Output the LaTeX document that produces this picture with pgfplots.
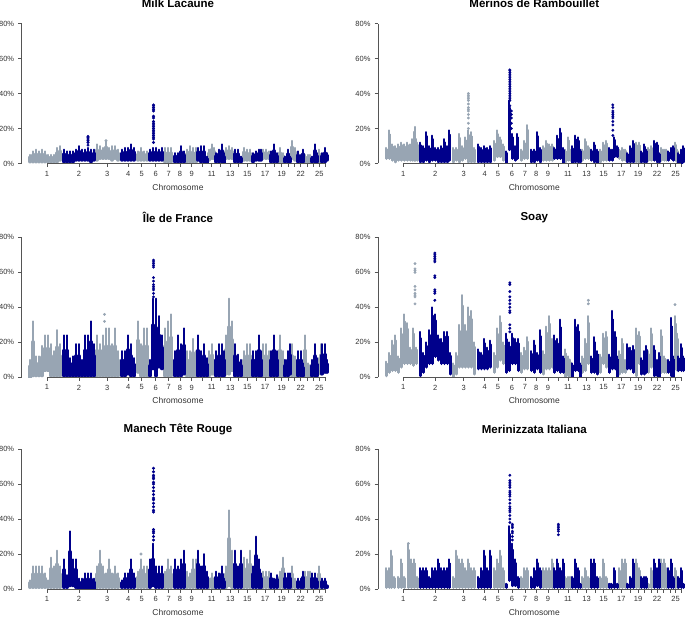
\documentclass[border=0pt]{standalone}
\usepackage{fontspec}
\setmainfont{Liberation Sans}
\usepackage{pgfplots}
\usepackage{pgfplotstable}
\pgfplotsset{compat=1.18}

\definecolor{chrgrey}{HTML}{98A5B3}
\definecolor{chrnavy}{HTML}{00008B}
\definecolor{axgrey}{HTML}{555555}

% x is the position along the genome, y the percentage; each row is one column of SNPs (lo to hi)
% --- Milk Lacaune
\pgfplotstableread[row sep=crcr]{x lo hi\\
30 1 5\\33 1 7\\36 1 8\\39 1 7\\42 1 8\\45 1 7\\48 1 5\\51 1 5\\54 1 5\\57 1 9\\60 2 10\\
97 2 11\\100 3 10\\103 3 9\\106 3 13\\109 3 9\\112 2 10\\115 3 10\\118 2 8\\
138 2 7\\141 2 9\\144 2 7\\147 2 7\\
165 1 9\\168 1 9\\171 1 9\\
187 1 8\\190 1 10\\193 1 9\\196 1 9\\
209 2 8\\212 3 11\\214 3 9\\
226 3 9\\229 3 10\\232 3 9\\
244 2 9\\247 2 8\\250 2 8\\
263 3 8\\266 3 8\\269 3 7\\
280 1 9\\283 1 6\\
292 3 13\\295 2 9\\
305 1 5\\308 1 5\\310 1 5\\
319 1 8\\321 1 5\\
}\MLg
\pgfplotstableread[row sep=crcr]{x lo hi\\
64 1 8\\67 1 7\\70 1 7\\73 1 7\\76 2 8\\79 2 10\\82 2 8\\85 2 8\\88 2 9\\91 1 8\\94 2 8\\
122 2 8\\125 2 9\\128 2 9\\131 2 11\\134 2 9\\
150 2 8\\153 2 9\\156 2 9\\159 2 8\\162 2 9\\
175 1 6\\178 1 6\\181 1 10\\184 1 7\\
198 2 9\\201 1 10\\204 1 10\\207 0 4\\
216 1 6\\219 1 8\\222 1 11\\224 0 6\\
235 1 8\\238 1 8\\241 1 4\\
253 1 6\\256 2 7\\259 2 8\\261 2 8\\
271 1 7\\274 1 11\\277 1 6\\
285 1 4\\288 1 8\\290 1 4\\
298 1 7\\301 1 5\\303 1 8\\
312 1 4\\315 1 11\\317 1 6\\
322 1 6\\325 1 9\\327 2 6\\
}\MLn
\pgfplotstableread[row sep=crcr]{x y\\106 13\\}\MLgs
\pgfplotstableread[row sep=crcr]{x y\\
88 10.5\\88 12\\88 13\\88 14\\88 15\\88 15.5\\
153.5 12\\153.5 14\\153.5 15\\153.5 16\\153.5 17\\153.5 18\\153.5 19\\153.5 20\\153.5 21\\153.5 22\\153.5 23\\153.5 24\\153.5 26\\153.5 27\\153.5 30\\153.5 31\\153.5 32\\153.5 33\\153.5 33.5\\
}\MLns

% --- Merinos de Rambouillet
\pgfplotstableread[row sep=crcr]{x lo hi\\
30 3 9\\33 3 19\\36 2 11\\39 1 10\\42 2 11\\45 2 12\\48 2 11\\51 2 12\\54 2 11\\56 2 14\\58.5 2 21\\61 2 12\\
97 1 9\\100 2 9\\103 1 17\\106 2 10\\109 3 15\\112 1 19\\115 1 18\\118 1 9\\
138 2 13\\141 4 19\\144 4 15\\147 2 11\\
165 2 8\\168 3 13\\171 3 22\\
187 2 10\\190 2 13\\193 2 11\\196 2 11\\
209 1 8\\212 2 15\\214 2 8\\
226 2 8\\229 3 14\\232 3 10\\
244 1 8\\247 2 12\\250 2 13\\
263 3 8\\266 2 9\\269 2 8\\
280 1 12\\283 0 12\\
292 2 9\\295 2 10\\
305 2 9\\308 2 8\\310 2 8\\
319 2 12\\321 1 8\\
}\MRg
\pgfplotstableread[row sep=crcr]{x lo hi\\
64 1 12\\67 1 10\\70 2 18\\73 1 10\\76 2 16\\79 2 9\\82 1 9\\85 1 10\\88 1 14\\91 1 10\\93 2 19\\
122 1 11\\125 1 9\\128 1 10\\131 1 9\\134 1 10\\
150 0 7\\153 8 36\\156 3 17\\159 2 10\\161 3 17\\
175 1 8\\178 1 8\\181 2 18\\184 1 9\\
198 3 9\\201 3 16\\204 3 20\\207 0 9\\
216 0 10\\219 1 16\\222 1 15\\224 1 8\\
235 2 8\\238 1 12\\241 0 8\\
253 2 9\\256 2 8\\258 4 15\\261 4 10\\
271 1 6\\274 1 10\\277 1 13\\
285 1 7\\288 1 11\\290 1 8\\
298 2 13\\301 1 12\\303 1 6\\
312 2 7\\315 3 9\\317 2 10\\
322 0 6\\325 0 8\\327 1 10\\
}\MRn
\pgfplotstableread[row sep=crcr]{x y\\
112 20\\112 23\\112 26\\112 28\\112 30\\112 31\\112 32\\112 34\\112 36\\112 37\\112 38\\112 39\\112 40\\
}\MRgs
\pgfplotstableread[row sep=crcr]{x y\\
153.5 30\\153.5 33\\153.5 36\\153.5 37\\153.5 38\\153.5 39\\153.5 40\\153.5 41\\153.5 42\\153.5 43\\153.5 44\\153.5 45\\153.5 46\\153.5 47\\153.5 48\\153.5 49\\153.5 50\\153.5 51\\153.5 52\\153.5 53\\153.5 53.5\\
155 20\\155 23\\155 26\\155 28\\155 30\\
256.5 16\\256.5 19\\256.5 22\\256.5 24\\256.5 26\\256.5 27\\256.5 28\\256.5 29\\256.5 30\\256.5 32\\256.5 33.5\\
}\MRns

% --- Ile de France
\pgfplotstableread[row sep=crcr]{x lo hi\\
30 0 10\\33 1 32\\36 1 12\\39 1 12\\42 1 18\\45 4 24\\48 4 24\\51 1 19\\54 1 15\\57 1 27\\60 1 19\\
97 1 24\\100 1 19\\103 1 24\\106 1 28\\109 1 28\\112 1 19\\115 1 28\\118 1 15\\
138 3 32\\141 1 19\\144 1 28\\147 1 28\\
165 1 28\\168 1 32\\171 1 36\\
187 1 15\\190 1 15\\193 1 22\\196 1 15\\
209 1 15\\212 2 19\\214 2 10\\
226 2 24\\229 2 45\\232 4 32\\
244 1 15\\247 1 19\\250 1 19\\
263 1 19\\266 1 19\\269 1 15\\
280 1 24\\283 1 15\\
292 1 19\\295 1 12\\
305 1 24\\308 1 8\\310 1 7\\
319 3 11\\321 2 19\\
}\IFg
\pgfplotstableread[row sep=crcr]{x lo hi\\
64 1 24\\67 1 24\\70 1 11\\73 1 12\\76 1 19\\79 1 19\\82 1 10\\85 1 24\\88 1 24\\91 1 32\\94 1 19\\
122 1 15\\125 1 15\\128 2 24\\131 1 19\\134 1 11\\
150 1 10\\153 5 45\\156 1 45\\159 6 35\\162 5 24\\
175 1 15\\178 1 24\\181 1 19\\184 2 28\\
198 1 24\\201 1 15\\204 1 19\\207 1 11\\
216 1 15\\219 1 19\\222 1 19\\224 1 15\\
235 1 19\\238 1 13\\241 1 10\\
253 1 15\\256 1 15\\259 1 24\\261 1 15\\
271 1 15\\274 1 24\\277 1 15\\
285 1 10\\288 1 15\\290 2 19\\
298 1 15\\301 1 15\\303 1 8\\
312 1 10\\315 1 19\\317 1 11\\
322 2 19\\325 3 19\\327 3 10\\
}\IFn
\pgfplotstableread[row sep=crcr]{x y\\104.5 32\\104.5 36\\}\IFgs
\pgfplotstableread[row sep=crcr]{x y\\
153.5 46\\153.5 48\\153.5 50\\153.5 51\\153.5 52\\153.5 53\\153.5 55\\153.5 57\\153.5 63\\153.5 64\\153.5 65\\153.5 66\\153.5 67\\
}\IFns

% --- Soay
\pgfplotstableread[row sep=crcr]{x lo hi\\
30 1 9\\33 3 14\\36 4 21\\39 4 24\\42 3 12\\45 6 28\\48 8 36\\51 8 31\\54 8 17\\57 7 28\\60 8 17\\
97 0 8\\100 2 14\\103 6 30\\106 6 47\\109 6 30\\112 6 40\\115 6 38\\118 2 20\\
138 3 14\\141 6 28\\144 10 35\\147 8 20\\
165 3 14\\168 5 17\\171 5 23\\
187 2 15\\190 5 29\\193 5 35\\196 6 22\\
209 0 16\\212 1 12\\214 0 10\\
226 3 12\\229 4 22\\232 8 35\\
244 3 13\\247 8 25\\250 6 26\\
263 2 15\\266 3 22\\269 3 10\\
280 1 28\\283 8 26\\
292 3 15\\295 6 28\\
305 3 27\\308 3 12\\310 3 10\\
319 5 35\\321 4 25\\
}\SOg
\pgfplotstableread[row sep=crcr]{x lo hi\\
64 1 26\\67 3 14\\70 6 20\\73 8 27\\76 8 40\\79 12 36\\82 10 24\\85 8 22\\88 8 26\\91 8 26\\94 2 14\\
122 5 16\\125 5 14\\128 5 22\\131 5 17\\134 6 21\\
150 3 25\\153 4 20\\156 8 25\\159 8 22\\162 4 22\\
175 4 15\\178 3 21\\181 5 14\\184 3 27\\
198 3 24\\201 4 22\\204 3 33\\207 3 12\\
216 0 8\\219 4 33\\222 4 30\\224 0 8\\
235 3 12\\238 3 23\\241 2 15\\
253 3 13\\256 5 38\\259 5 26\\261 0 12\\
271 5 19\\274 5 17\\277 3 18\\
285 2 11\\288 2 15\\290 3 18\\
298 1 18\\301 1 10\\303 0 14\\
312 3 10\\315 1 34\\317 0 12\\
322 4 12\\325 4 19\\327 4 12\\
}\SOn
\pgfplotstableread[row sep=crcr]{x y\\
58.7 42\\58.7 46\\58.7 47\\58.7 48\\58.7 50\\58.7 52\\58.7 60\\58.7 61\\58.7 62\\58.7 65\\
232 42\\232 44\\318.7 41.5\\
}\SOgs
\pgfplotstableread[row sep=crcr]{x y\\
78.5 44\\78.5 48\\78.5 49\\78.5 50\\78.5 57\\78.5 58\\78.5 66\\78.5 67\\78.5 68\\78.5 69\\78.5 70\\78.5 71\\
153.5 26\\153.5 28\\153.5 30\\153.5 37\\153.5 38\\153.5 40\\153.5 42\\153.5 44\\153.5 46\\153.5 49\\153.5 53\\153.5 54\\
}\SOns

% --- Manech Tete Rouge
\pgfplotstableread[row sep=crcr]{x lo hi\\
30 1 5\\33 1 13\\36 1 13\\39 1 13\\42 1 13\\45 1 9\\48 1 5\\51 1 18\\54 1 13\\57 1 22\\60 1 13\\
97 1 13\\100 1 22\\103 1 13\\106 1 9\\109 1 17\\112 1 9\\115 1 13\\118 1 9\\
138 1 10\\141 1 17\\144 1 13\\147 1 13\\
165 1 10\\168 1 17\\171 1 13\\
187 1 10\\190 1 9\\193 1 17\\196 1 17\\
209 1 6\\212 1 9\\214 1 5\\
226 1 13\\229 2 45\\232 1 22\\
244 1 18\\247 1 17\\250 1 22\\
263 1 10\\266 1 10\\269 1 10\\
280 1 10\\283 1 18\\
292 1 13\\295 1 6\\
305 1 10\\308 1 10\\310 1 10\\
319 1 13\\321 1 6\\
}\MTg
\pgfplotstableread[row sep=crcr]{x lo hi\\
64 1 17\\67 1 8\\70 2 33\\73 2 17\\76 1 17\\79 0 6\\82 0 6\\85 0 9\\88 0 9\\91 0 9\\94 0 6\\
122 1 5\\125 1 9\\128 1 9\\131 1 17\\134 1 9\\
150 1 17\\153 2 26\\156 1 13\\159 1 13\\162 1 13\\
175 1 17\\178 1 13\\181 1 17\\184 1 22\\
198 1 22\\201 1 13\\204 1 20\\207 1 10\\
216 1 10\\219 1 9\\222 1 13\\224 1 6\\
235 1 22\\238 1 13\\241 1 22\\
253 1 13\\256 1 30\\259 1 17\\261 1 9\\
271 1 9\\274 1 6\\277 1 8\\
285 1 9\\288 1 9\\290 1 9\\
298 1 6\\301 1 6\\303 1 10\\
312 1 9\\315 1 9\\317 1 6\\
322 1 6\\325 1 6\\327 1 2\\
}\MTn
\pgfplotstableread[row sep=crcr]{x y\\141 20\\}\MTgs
\pgfplotstableread[row sep=crcr]{x y\\
153.5 28\\153.5 30\\153.5 32\\153.5 33\\153.5 34\\
153.5 44\\153.5 45\\153.5 47\\153.5 49\\153.5 51\\153.5 52\\153.5 54\\153.5 56\\153.5 58\\153.5 60\\153.5 61\\153.5 63\\153.5 64\\153.5 65\\153.5 67\\153.5 69\\
}\MTns

% --- Merinizzata Italiana
\pgfplotstableread[row sep=crcr]{x lo hi\\
30 1 12\\33 1 12\\35 1 22\\38 1 7\\42 1 7\\45 1 17\\48 1 7\\52 1 26\\55 1 17\\58 1 17\\61 1 7\\
97 1 7\\100 1 22\\103 1 17\\106 1 17\\109 1 12\\112 1 17\\115 1 12\\118 1 12\\
138 1 12\\141 1 17\\144 1 22\\147 1 12\\
165 1 7\\168 1 12\\171 1 12\\
187 1 12\\190 1 12\\193 1 12\\196 1 17\\
209 1 7\\212 1 7\\214 1 7\\
226 1 7\\229 1 12\\232 1 7\\
244 1 7\\247 1 17\\250 1 7\\
263 1 12\\266 1 17\\269 1 17\\
280 1 17\\283 1 12\\
292 1 3\\295 1 12\\
305 1 17\\308 1 17\\310 1 12\\
319 1 12\\321 1 7\\
}\MIg
\pgfplotstableread[row sep=crcr]{x lo hi\\
64 1 12\\67 1 12\\70 1 12\\73 1 7\\76 1 12\\79 1 12\\82 1 17\\85 1 12\\88 1 12\\91 1 12\\93 1 17\\
122 1 7\\125 1 12\\128 1 22\\131 1 12\\134 1 22\\
150 1 3\\153 5 36\\156 2 26\\159 2 17\\162 1 7\\
175 1 7\\178 1 12\\181 2 17\\184 1 12\\
198 1 12\\201 1 17\\204 1 12\\207 1 17\\
216 1 7\\219 1 17\\222 1 12\\224 1 3\\
235 1 17\\238 1 17\\241 1 7\\
253 1 3\\255 1 3\\258 1 12\\261 1 3\\
271 1 3\\274 1 7\\277 1 17\\
285 1 7\\288 1 7\\290 1 7\\
298 1 17\\301 1 12\\303 1 17\\
312 1 12\\315 1 17\\317 1 7\\
322 1 7\\325 1 12\\327 1 3\\
}\MIn
\pgfplotstableread[row sep=crcr]{x y\\52 26\\}\MIgs
\pgfplotstableread[row sep=crcr]{x y\\
153.5 38\\153.5 40\\153.5 42\\153.5 44\\153.5 45\\153.5 46\\153.5 47\\153.5 49\\153.5 51\\153.5 53\\153.5 54\\153.5 55\\153.5 56\\153.5 58\\153.5 59\\153.5 60\\153.5 61\\153.5 62\\153.5 65\\
156 28\\156 30\\156 32\\156 33\\156 35\\156 36\\156 37\\
202 31\\202 33\\202 34\\202 35\\202 36\\202 37\\
}\MIns

\pgfplotsset{
  snp column/.style 2 args={draw=none, mark=none, forget plot,
    error bars/y dir=plus, error bars/y explicit, error bars/error mark=none,
    error bars/error bar style={line width=#2, color=#1, line cap=round, solid}},
  snp point/.style={only marks, mark=*, mark size=1.25pt, color=#1, forget plot},
}

% each column tapers towards its top, as the scatter of SNPs thins out
\newcommand{\snpcolumns}[2]{%
  \addplot[snp column={#1}{3.5pt}] table[x=x, y=lo, y error expr=0.62*(\thisrow{hi}-\thisrow{lo})] {#2};
  \addplot[snp column={#1}{2.7pt}] table[x=x, y=lo, y error expr=0.85*(\thisrow{hi}-\thisrow{lo})] {#2};
  \addplot[snp column={#1}{1.8pt}] table[x=x, y=lo, y error expr=\thisrow{hi}-\thisrow{lo}] {#2};
}

\newcommand{\panel}[6]{%
  \begin{axis}[
    at={(#1)}, anchor=south west,
    scale only axis, width=310.3pt, height=140pt,
    xmin=21.7, xmax=332, ymin=0, ymax=80,
    clip mode=individual,
    axis x line*=bottom, axis y line*=left,
    axis line style={-}, x axis line style={draw=none},
    y axis line style={draw=axgrey, line width=1pt},
    tick align=outside, major tick length=3.5pt,
    tick style={draw=axgrey, line width=0.7pt},
    ytick={0,20,40,60,80},
    yticklabels={0\%,20\%,40\%,60\%,80\%},
    xtick={47,79,107.3,128.3,141.7,155.7,168.7,180,191.7,202.3,211.7,220.7,230.3,238.7,247.3,256.3,265,274,281.7,288.3,294.7,300.7,307,313.7,319.3,325},
    xticklabels={1,2,3,4,5,6,7,8,9,,11,,13,,15,,17,,19,,,22,,,25,},
    ticklabel style={font=\fontsize{7.5}{9}\selectfont, text=black!80},
    xticklabel style={yshift=-0.5pt},
    yticklabel style={xshift=-0.5pt},
    xlabel={Chromosome},
    xlabel style={at={(0.5037,0)}, anchor=center, yshift=-23.5pt, font=\fontsize{8.5}{10}\selectfont, text=black!80},
    title={#2},
    title style={at={(0.5037,1)}, anchor=center, yshift=14pt, font=\fontsize{11.5}{13}\selectfont\bfseries},
  ]
    \snpcolumns{chrgrey}{#3}
    \snpcolumns{chrnavy}{#4}
    \addplot[snp point=chrgrey] table[x=x, y=y] {#5};
    \addplot[snp point=chrnavy] table[x=x, y=y] {#6};
    \draw[axgrey, line width=0.8pt] (axis cs:47,0) -- (axis cs:325,0);
  \end{axis}%
}

\begin{document}
\begin{tikzpicture}
  \useasboundingbox (0,0) rectangle (685pt,616pt);
  \panel{21.7pt,452.5pt}{Milk Lacaune}{\MLg}{\MLn}{\MLgs}{\MLns}
  \panel{378pt,452.5pt}{Mérinos de Rambouillet}{\MRg}{\MRn}{\MRgs}{\MRns}
  \panel{21.7pt,238.7pt}{Île de France}{\IFg}{\IFn}{\IFgs}{\IFns}
  \panel{378pt,238.7pt}{Soay}{\SOg}{\SOn}{\SOgs}{\SOns}
  \panel{21.7pt,27pt}{Manech Tête Rouge}{\MTg}{\MTn}{\MTgs}{\MTns}
  \panel{378pt,27pt}{Merinizzata Italiana}{\MIg}{\MIn}{\MIgs}{\MIns}
\end{tikzpicture}
\end{document}
